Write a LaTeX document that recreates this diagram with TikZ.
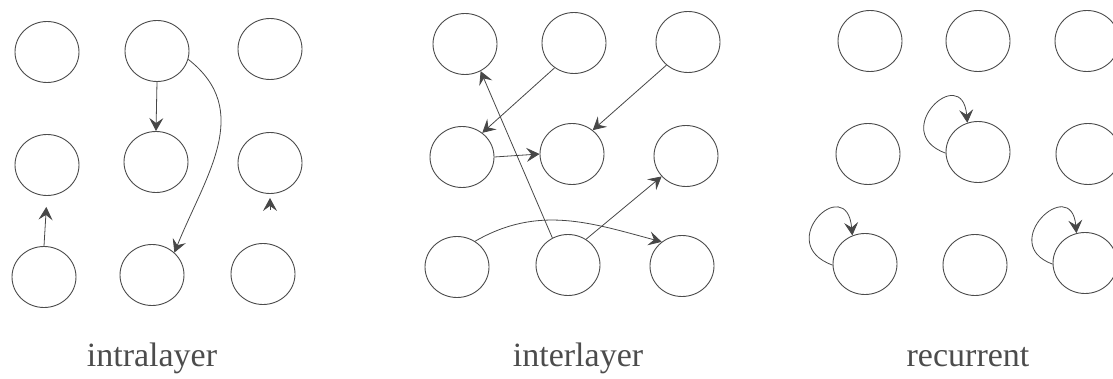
\documentclass[tikz,border=0pt]{standalone}
\usepackage{fontspec}
\setmainfont{Liberation Serif}
\usetikzlibrary{arrows.meta,shapes.geometric}
\begin{document}
\begin{tikzpicture}[x=1pt,y=1pt,
  neuron/.style={draw=black!70, line width=0.9pt, ellipse, minimum width=64pt, minimum height=61pt, inner sep=0pt},
  link/.style={draw=black!72, line width=0.8pt, -{Stealth[length=13pt,width=14pt,inset=5pt]}},
  caption/.style={font=\fontsize{34}{40}\selectfont, text=black!70, anchor=base}]
\useasboundingbox (0,-379) rectangle (1113,0);
\clip (0,-379) rectangle (1113,0);
% panel 1: intralayer
\node[neuron] (a1) at (47,-52) {};
\node[neuron] (a2) at (157,-51) {};
\node[neuron] (a3) at (270,-49) {};
\node[neuron] (b1) at (47,-165) {};
\node[neuron] (b2) at (156,-162) {};
\node[neuron] (b3) at (270,-163) {};
\node[neuron] (c1) at (44,-277) {};
\node[neuron] (c2) at (152,-275) {};
\node[neuron] (c3) at (263,-274) {};
\draw[link] (a2.south) -- (b2.north);
\draw[link] (a2.-15) to[out=-38,in=68,looseness=1.1] (c2.45);
\draw[link, shorten >=11pt] (c1.north) -- (b1.south);
\coordinate (b3tail) at (270,-210);
\draw[link, shorten >=4pt] (b3tail) -- (b3.south);
% panel 2: interlayer
\node[neuron] (d1) at (465,-44) {};
\node[neuron] (d2) at (574,-43) {};
\node[neuron] (d3) at (688,-42) {};
\node[neuron] (e1) at (462,-157) {};
\node[neuron] (e2) at (572,-154) {};
\node[neuron] (e3) at (686,-156) {};
\node[neuron] (f1) at (457,-267) {};
\node[neuron] (f2) at (568,-265) {};
\node[neuron] (f3) at (682,-266) {};
\draw[link] (d2.232) -- (e1.50);
\draw[link] (d3.227) -- (e2.49);
\draw[link] (e1.east) -- (e2.west);
\draw[link] (f2.120) -- (d1.-60);
\draw[link] (f2.55) -- (e3.220);
\draw[link] (f1.55) to[out=30,in=165] (f3.130);
% panel 3: recurrent
\node[neuron] (g1) at (870,-41) {};
\node[neuron] (g2) at (978,-41) {};
\node[neuron] (g3) at (1087,-41) {};
\node[neuron] (h1) at (868,-154) {};
\node[neuron] (h2) at (978,-152) {};
\node[neuron] (h3) at (1088,-154) {};
\node[neuron] (i1) at (865,-264) {};
\node[neuron] (i2) at (975,-265) {};
\node[neuron] (i3) at (1085,-263) {};
\draw[link] (h2.182) to[out=160, in=95, looseness=4.2] (h2.110);
\draw[link] (i1.182) to[out=160, in=95, looseness=4.6] (i1.114);
\draw[link] (i3.182) to[out=160, in=95, looseness=3.9] (i3.106);
% captions
\node[caption] (t1) at (152,-366) {intralayer};
\node[caption] (t2) at (578,-366) {interlayer};
\node[caption] (t3) at (968,-366) {recurrent};
\end{tikzpicture}
\end{document}
